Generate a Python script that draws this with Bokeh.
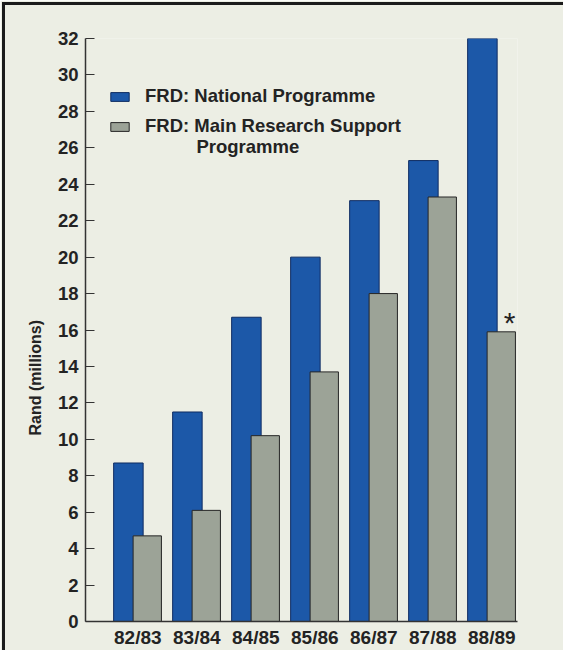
from bokeh.plotting import figure
from bokeh.layouts import column
from bokeh.models import (FixedTicker, Legend, LegendItem, Label, Range1d,
                          Title, InlineStyleSheet)
from bokeh.core.properties import value
from bokeh.embed import file_html
from bokeh.resources import INLINE

# Funding per financial year, Rand (millions)
years = ["82/83", "83/84", "84/85", "85/86", "86/87", "87/88", "88/89"]
national = [8.7, 11.5, 16.7, 20.0, 23.1, 25.3, 32.0]
main_support = [4.7, 6.1, 10.2, 13.7, 18.0, 23.3, 15.9]
y_ticks = list(range(0, 33, 2))

BG = "#eceee4"
BLUE = "#1c58a8"
BLUE_EDGE = "#0e2c62"
GREY = "#9ca397"
GREY_EDGE = "#262626"
INK = "#232323"
FONT = "Liberation Sans"

idx = list(range(len(years)))
x_blue = [i - 0.16 for i in idx]
x_grey = [i + 0.16 for i in idx]

fig = figure(
    width=563, height=650,
    x_range=Range1d(-0.887, 6.435), y_range=Range1d(0, 32),
    output_backend="svg", toolbar_location=None,
    min_border_left=85, min_border_right=46,
    min_border_top=38, min_border_bottom=29,
    background_fill_color=BG, border_fill_color=BG,
)
fig.outline_line_color = None
fig.grid.visible = False

r_blue = fig.vbar(x=x_blue, top=national, width=0.5, bottom=0,
                  fill_color=BLUE, line_color=BLUE_EDGE, line_width=1)
r_grey = fig.vbar(x=x_grey, top=main_support, width=0.48, bottom=0,
                  fill_color=GREY, line_color=GREY_EDGE, line_width=1)

# asterisk note on the latest Main Research Support bar
fig.text(x=[x_grey[-1] + 0.14], y=[main_support[-1] + 0.5], text=["*"],
         text_font=value(FONT), text_font_size="30px", text_color=INK,
         text_align="center", text_baseline="middle")

# axes
xa = fig.xaxis[0]
xa.ticker = FixedTicker(ticks=idx)
xa.major_label_overrides = {i: y for i, y in zip(idx, years)}
xa.major_tick_in = 0
xa.major_tick_out = 0
xa.minor_tick_line_color = None
xa.axis_line_color = "#333333"
xa.axis_line_width = 1.5
xa.major_label_standoff = 5
xa.major_label_text_font = FONT
xa.major_label_text_font_style = "bold"
xa.major_label_text_font_size = "19px"
xa.major_label_text_color = INK

ya = fig.yaxis[0]
ya.ticker = FixedTicker(ticks=y_ticks)
ya.major_tick_in = 9
ya.major_tick_out = 0
ya.minor_tick_line_color = None
ya.axis_line_color = "#333333"
ya.axis_line_width = 1.5
ya.major_tick_line_color = "#333333"
ya.major_tick_line_width = 1.2
ya.major_label_standoff = 7
ya.major_label_text_font = FONT
ya.major_label_text_font_style = "bold"
ya.major_label_text_font_size = "18.5px"
ya.major_label_text_color = INK

# axis title, set lower than the frame centre
fig.add_layout(Title(text="Rand (millions)", align="left", offset=186,
                     standoff=21, text_font=FONT, text_font_style="bold",
                     text_font_size="16px", text_color=INK), "left")

legend = Legend(
    items=[
        LegendItem(label="FRD: National Programme", renderers=[r_blue]),
        LegendItem(label="FRD: Main Research Support", renderers=[r_grey]),
    ],
    location=(23, 484),
    glyph_width=23, glyph_height=11,
    label_standoff=14, spacing=8, label_height=20,
    padding=0, margin=0,
    border_line_color=None, background_fill_alpha=0,
    label_text_font=FONT, label_text_font_style="bold",
    label_text_font_size="18.5px", label_text_color=INK,
)
fig.add_layout(legend)

fig.add_layout(Label(x=0.994, y=26.07, text="Programme",
                     text_font=FONT, text_font_style="bold",
                     text_font_size="18.5px", text_color=INK,
                     text_baseline="middle"))

# wrapper carrying the dark rule along the top and left edges
p = column(fig, stylesheets=[InlineStyleSheet(css="""
:host { position: relative; }
:host::after {
  content: "";
  position: absolute;
  left: 2px; top: 2px; width: 561px; height: 648px;
  box-sizing: border-box;
  border-left: 3px solid #1b1b1b;
  border-top: 3px solid #1b1b1b;
  pointer-events: none;
  z-index: 10;
}
""")])

open("out.html", "w").write(file_html(p, INLINE))
